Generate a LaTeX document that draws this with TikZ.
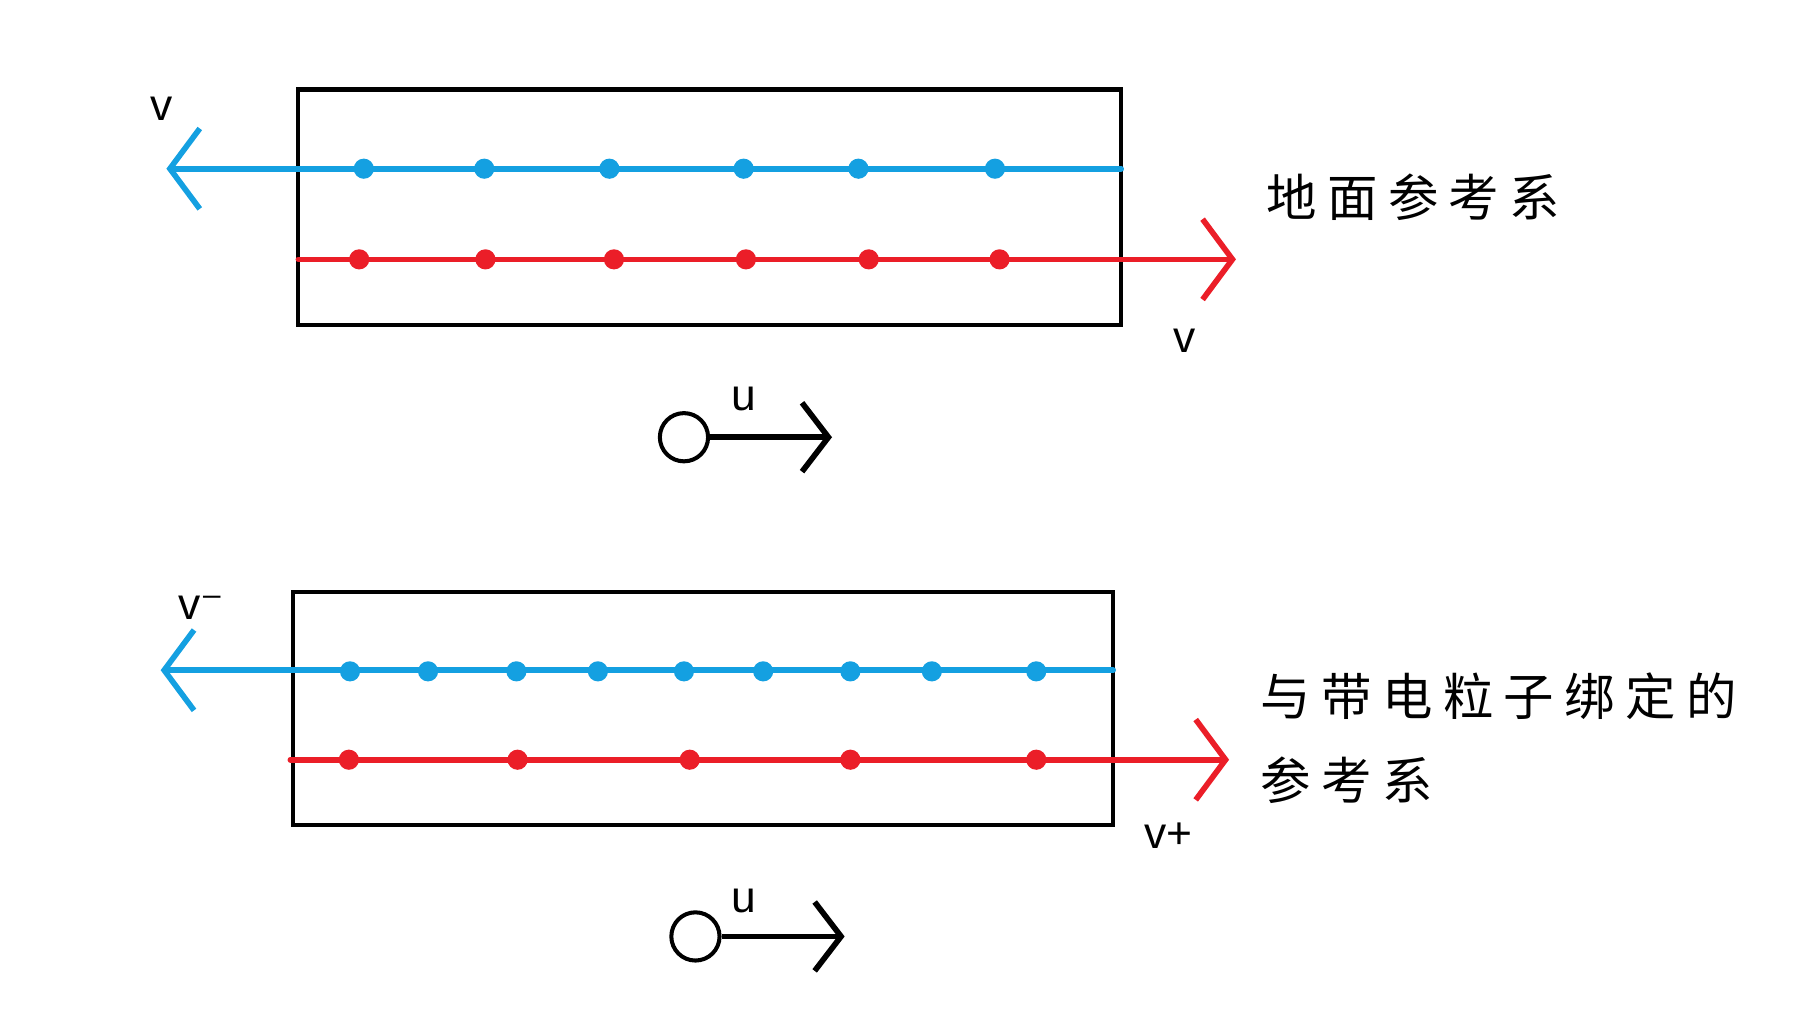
\documentclass[tikz,border=0pt]{standalone}
\usepackage{fontspec}
\setmainfont{Liberation Sans}
\newfontfamily\dejav{DejaVu Sans}
\newfontfamily\cjk{Noto Sans CJK SC}
\usetikzlibrary{arrows.meta}
\definecolor{cblue}{RGB}{20,160,225}
\definecolor{cred}{RGB}{235,30,40}
\begin{document}
\begin{tikzpicture}[x=0.01cm,y=-0.01cm,
  bx/.style={draw=black,line width=1pt},
  ln/.style={line width=1.4pt,line cap=round,-{Straight Barb[length=2.6mm,width=7mm,line width=1.4pt]}},
  dotb/.style={circle,fill=cblue,inner sep=0pt,minimum size=5pt},
  dotr/.style={circle,fill=cred,inner sep=0pt,minimum size=5pt},
  lab/.style={font=\fontsize{11pt}{12pt}\selectfont},
  cj/.style={font=\cjk\fontsize{12.5pt}{14pt}\selectfont,anchor=west,inner sep=0pt}]
\useasboundingbox (0,0) rectangle (1565,888);
% top
\draw[bx] (260,78) rectangle (977,283);
\coordinate (b1s) at (977,147); \coordinate (b1e) at (145,147);
\coordinate (r1s) at (260,226); \coordinate (r1e) at (1077,226);
\draw[ln,cblue] (b1s) -- (b1e);
\draw[ln,cred] (r1s) -- (r1e);
\foreach \x [count=\i] in {317,422,531,648,748,867} \node[dotb] (tb\i) at (\x,147) {};
\foreach \x [count=\i] in {313,423,535,650,757,871} \node[dotr] (tr\i) at (\x,226) {};
\node[lab] (v1) at (141,95) {v};
\node[lab] (v2) at (1032,297) {v};
\node[cj] (t1) at (1103,172) {地\hspace{0.9mm}面\hspace{0.9mm}参\hspace{0.9mm}考\hspace{0.9mm}系};
\node[circle,draw,line width=1pt,minimum size=0.42cm,inner sep=0pt] (c1) at (596,381) {};
\coordinate (u1e) at (725,381);
\draw[line width=1.4pt,-{Straight Barb[length=2.3mm,width=6mm,line width=1.4pt]}] (c1.east) -- (u1e);
\node[lab] (u1) at (648,348) {u};
% bottom
\draw[bx] (255,516) rectangle (970,719);
\coordinate (b2s) at (970,584); \coordinate (b2e) at (140,584);
\coordinate (r2s) at (253,662); \coordinate (r2e) at (1071,662);
\draw[ln,cblue] (b2s) -- (b2e);
\draw[ln,cred] (r2s) -- (r2e);
\foreach \x [count=\i] in {305,373,450,521,596,665,741,812,903} \node[dotb] (bb\i) at (\x,585) {};
\foreach \x [count=\i] in {304,451,601,741,903} \node[dotr] (br\i) at (\x,662) {};
\node[lab] (v3) at (175,530) {v{\dejav⁻}};
\node[lab] (v4) at (1018,728) {v+};
\node[cj] (t2) at (1098,607) {与\hspace{0.9mm}带\hspace{0.9mm}电\hspace{0.9mm}粒\hspace{0.9mm}子\hspace{0.9mm}绑\hspace{0.9mm}定\hspace{0.9mm}的};
\node[cj] (t3) at (1098,680) {参\hspace{0.9mm}考\hspace{0.9mm}系};
\node[circle,draw,line width=1pt,minimum size=0.42cm,inner sep=0pt] (c2) at (606,816) {};
\coordinate (u2e) at (736,816);
\draw[line width=1.4pt,-{Straight Barb[length=2.3mm,width=6mm,line width=1.4pt]}] (c2.east) -- (u2e);
\node[lab] (u2) at (648,785) {u};
\end{tikzpicture}
\end{document}
